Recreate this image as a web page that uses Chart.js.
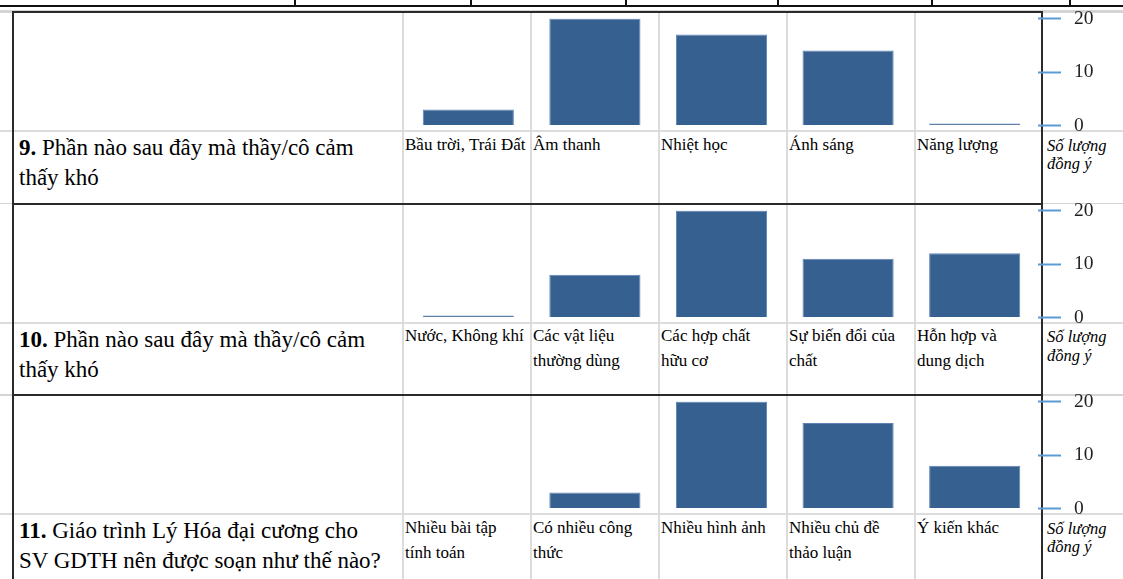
<!DOCTYPE html>
<html>
<head>
<meta charset="utf-8">
<script src="https://cdn.jsdelivr.net/npm/chart.js@4"></script>
<style>
  body { margin: 0; width: 1123px; height: 579px; overflow: hidden; background: #fff; position: relative;
         font-family: "Liberation Serif", "Times New Roman", serif; color: #000; }
  .ln { position: absolute; }
  .q { position: absolute; left: 19px; font-size: 23px; line-height: 30.5px; white-space: nowrap; }
  .lab { position: absolute; font-size: 17px; line-height: 25px; white-space: nowrap; }
  .ttl { position: absolute; left: 1047px; font-size: 16.5px; line-height: 18.5px; font-style: italic; white-space: nowrap; }
  canvas { position: absolute; }
</style>
</head>
<body>
<script>
// câu hỏi
const questionNums = ["9.", "10.", "11."];
const questionLines = [
  ["Phần nào sau đây mà thầy/cô cảm", "thấy khó"],
  ["Phần nào sau đây mà thầy/cô cảm", "thấy khó"],
  ["Giáo trình Lý Hóa đại cương cho", "SV GDTH nên được soạn như thế nào?"]
];

// các lựa chọn + số lượng đồng ý
const q9Labels = [["Bầu trời, Trái Đất"], ["Âm thanh"], ["Nhiệt học"], ["Ánh sáng"], ["Năng lượng"]];
const q9Values = [3, 20, 17, 14, 0];
const q10Labels = [["Nước, Không khí"], ["Các vật liệu", "thường dùng"], ["Các hợp chất", "hữu cơ"], ["Sự biến đổi của", "chất"], ["Hỗn hợp và", "dung dịch"]];
const q10Values = [0, 8, 20, 11, 12];
const q11Labels = [["Nhiều bài tập", "tính toán"], ["Có nhiều công", "thức"], ["Nhiều hình ảnh"], ["Nhiều chủ đề", "thảo luận"], ["Ý kiến khác"]];
const q11Values = [null, 3, 20, 16, 8];

const yMin = 0, yMax = 20, yStep = 10;
const axisTitle = ["Số lượng", "đồng ý"];

const allLabels = [q9Labels, q10Labels, q11Labels];
const allValues = [q9Values, q10Values, q11Values];

const rowTops = [11, 202.7, 394];
const colLefts = [402, 530, 658, 786, 914];

function line(x, y, w, h, c) {
  const d = document.createElement("div");
  d.className = "ln";
  d.style.cssText = `left:${x}px;top:${y}px;width:${w}px;height:${h}px;background:${c}`;
  document.body.appendChild(d);
}

// phần cuối của bảng phía trên
line(0, 5, 1123, 2, "#111");
[294, 470, 625, 777, 931, 1069].forEach(x => line(x, 0, 1.5, 6, "#111"));
line(0, 9.5, 1123, 1, "#d4d4d4");

// lưới của bảng
colLefts.forEach(x => line(x, 10, 2, 579, "#dcdcdc"));
rowTops.forEach(t => {
  line(0, t, 1123, 1.5, "#d4d4d4");
  line(12, t, 1030, 2, "#2a2a2a");
  line(0, t + 119, 1123, 2, "#dcdcdc");
});
line(12, 11, 1.5, 579, "#2a2a2a");
line(1041, 11, 1.5, 579, "#2a2a2a");

rowTops.forEach((t, r) => {
  const g = t + 119.5;

  const q = document.createElement("div");
  q.className = "q";
  q.style.top = (g + 2.4) + "px";
  q.innerHTML = "<b>" + questionNums[r] + "</b> " + questionLines[r].join("<br>");
  document.body.appendChild(q);

  allLabels[r].forEach((lines, i) => {
    const d = document.createElement("div");
    d.className = "lab";
    d.style.left = (colLefts[i] + 3) + "px";
    d.style.top = (g + 1) + "px";
    d.innerHTML = lines.join("<br>");
    document.body.appendChild(d);
  });

  const tt = document.createElement("div");
  tt.className = "ttl";
  tt.style.top = (g + 6) + "px";
  tt.innerHTML = axisTitle.join("<br>");
  document.body.appendChild(tt);

  const cv = document.createElement("canvas");
  cv.width = 718;
  cv.height = 140;
  cv.style.left = "405px";
  cv.style.top = (t - 6) + "px";
  document.body.appendChild(cv);

  new Chart(cv.getContext("2d"), {
    type: "bar",
    data: {
      labels: allLabels[r].map(l => l.join(" ")),
      datasets: [{
        data: allValues[r],
        backgroundColor: "#36608f",
        borderColor: "#5f83b5",
        borderWidth: 1,
        minBarLength: 2,
        barPercentage: 0.72,
        categoryPercentage: 1
      }]
    },
    options: {
      responsive: false,
      animation: false,
      layout: { padding: { top: 13.5, bottom: 19.5, left: 0, right: 0 } },
      plugins: { legend: { display: false }, tooltip: { enabled: false } },
      scales: {
        x: { display: false },
        y: {
          position: "right",
          min: yMin,
          max: yMax,
          afterFit: s => { s.width = 85; s.paddingTop = 0; s.paddingBottom = 0; },
          border: { display: false },
          grid: { drawOnChartArea: false, drawTicks: true, tickLength: 23, tickColor: "#5b9bd5", tickWidth: 2 },
          ticks: { stepSize: yStep, padding: 13, color: "#1f1f1f", font: { family: "Liberation Serif", size: 19.5 } }
        }
      }
    }
  });
});
</script>
</body>
</html>
